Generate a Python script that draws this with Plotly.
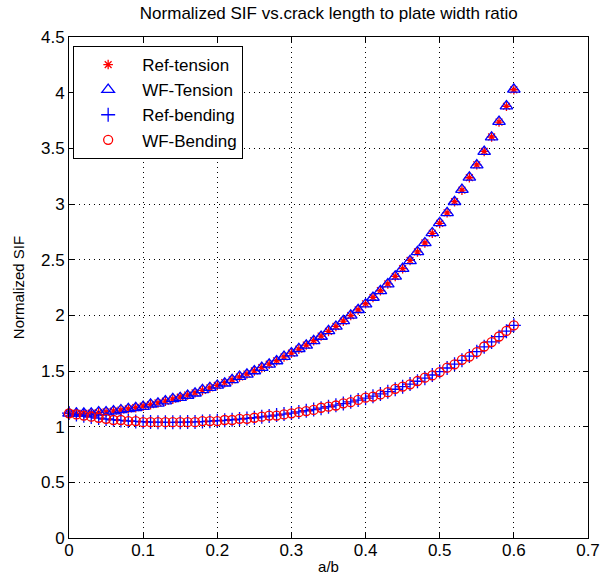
import plotly.graph_objects as go

# crack length to plate width ratio a/b
a_over_b = [round(0.01 * i, 2) for i in range(61)]

# normalized SIF, reference solution under tension
ref_tension = [
    1.120, 1.119, 1.119, 1.122, 1.126, 1.132, 1.140, 1.149, 1.159, 1.171,
    1.184, 1.198, 1.213, 1.229, 1.247, 1.265, 1.284, 1.304, 1.326, 1.348,
    1.371, 1.395, 1.420, 1.446, 1.473, 1.501, 1.530, 1.561, 1.592, 1.626,
    1.660, 1.696, 1.733, 1.773, 1.814, 1.856, 1.901, 1.948, 1.998, 2.049,
    2.104, 2.161, 2.221, 2.283, 2.350, 2.419, 2.493, 2.570, 2.651, 2.737,
    2.826, 2.921, 3.021, 3.125, 3.236, 3.352, 3.473, 3.602, 3.736, 3.878,
    4.026,
]

# normalized SIF, weight function result under tension
wf_tension = [
    1.12, 1.12, 1.12, 1.12, 1.13, 1.13, 1.14, 1.15, 1.16, 1.17,
    1.18, 1.20, 1.21, 1.23, 1.25, 1.26, 1.28, 1.30, 1.33, 1.35,
    1.37, 1.39, 1.42, 1.45, 1.47, 1.50, 1.53, 1.56, 1.59, 1.63,
    1.66, 1.70, 1.73, 1.77, 1.81, 1.86, 1.90, 1.95, 2.00, 2.05,
    2.10, 2.16, 2.22, 2.28, 2.35, 2.42, 2.49, 2.57, 2.65, 2.74,
    2.83, 2.92, 3.02, 3.13, 3.24, 3.35, 3.47, 3.60, 3.74, 3.88,
    4.03,
]

# normalized SIF, reference solution under bending
ref_bending = [
    1.122, 1.109, 1.097, 1.086, 1.077, 1.069, 1.062, 1.056, 1.051, 1.047,
    1.044, 1.041, 1.040, 1.039, 1.039, 1.040, 1.041, 1.043, 1.046, 1.049,
    1.053, 1.057, 1.062, 1.068, 1.074, 1.080, 1.088, 1.095, 1.104, 1.113,
    1.122, 1.132, 1.143, 1.154, 1.166, 1.179, 1.193, 1.207, 1.223, 1.239,
    1.256, 1.274, 1.294, 1.314, 1.336, 1.359, 1.383, 1.408, 1.436, 1.464,
    1.495, 1.527, 1.561, 1.596, 1.634, 1.674, 1.717, 1.761, 1.808, 1.858,
    1.910,
]

# normalized SIF, weight function result under bending
wf_bending = [
    1.12, 1.11, 1.10, 1.09, 1.08, 1.07, 1.06, 1.06, 1.05, 1.05,
    1.04, 1.04, 1.04, 1.04, 1.04, 1.04, 1.04, 1.04, 1.05, 1.05,
    1.05, 1.06, 1.06, 1.07, 1.07, 1.08, 1.09, 1.10, 1.10, 1.11,
    1.12, 1.13, 1.14, 1.15, 1.17, 1.18, 1.19, 1.21, 1.22, 1.24,
    1.26, 1.27, 1.29, 1.31, 1.34, 1.36, 1.38, 1.41, 1.44, 1.46,
    1.49, 1.53, 1.56, 1.60, 1.63, 1.67, 1.72, 1.76, 1.81, 1.86,
    1.91,
]

x_ticks = [0, 0.1, 0.2, 0.3, 0.4, 0.5, 0.6, 0.7]
x_tick_text = ["0", "0.1", "0.2", "0.3", "0.4", "0.5", "0.6", "0.7"]
y_ticks = [0, 0.5, 1, 1.5, 2, 2.5, 3, 3.5, 4, 4.5]
y_tick_text = ["0", "0.5", "1", "1.5", "2", "2.5", "3", "3.5", "4", "4.5"]

RED = "#ff0000"
BLUE = "#0000ff"
FONT = "Liberation Sans, Arial, sans-serif"

series = [
    ("Ref-tension", ref_tension, "asterisk-open", 8, RED),
    ("WF-Tension", wf_tension, "triangle-up-open", 11, BLUE),
    ("Ref-bending", ref_bending, "cross-thin-open", 10, BLUE),
    ("WF-Bending", wf_bending, "circle-open", 9, RED),
]

fig = go.Figure()
for i, (name, vals, sym, size, color) in enumerate(series):
    fig.add_trace(go.Scatter(
        x=a_over_b, y=vals, name=name, mode="markers",
        legendgroup=f"g{i}",
        cliponaxis=False,
        marker=dict(symbol=sym, size=size, color=color,
                    line=dict(color=color, width=1.3)),
    ))

axis_common = dict(
    showline=True, linecolor="black", linewidth=1, mirror="ticks",
    ticks="inside", ticklen=5, tickcolor="black",
    showgrid=True, gridcolor="black", gridwidth=1, griddash="1px,4px",
    zeroline=False, ticklabeloverflow="allow", automargin=False,
    tickfont=dict(family=FONT, size=17, color="black"),
)

fig.update_xaxes(
    range=[0, 0.70001], tickvals=x_ticks, ticktext=x_tick_text,
    ticklabelstandoff=-3,
    title=dict(text="a/b", font=dict(family=FONT, size=15, color="black"),
               standoff=2),
    **axis_common,
)
fig.update_yaxes(
    range=[0, 4.50001], tickvals=y_ticks, ticktext=y_tick_text,
    title=dict(text="Normalized SIF", font=dict(family=FONT, size=15, color="black"),
               standoff=12),
    **axis_common,
)

fig.update_layout(
    width=600, height=578,
    margin=dict(l=69, r=12, t=37, b=40, autoexpand=False),
    paper_bgcolor="white", plot_bgcolor="white",
    title=dict(
        text="Normalized SIF vs.crack length to plate width ratio",
        font=dict(family=FONT, size=17, color="black"),
        x=0.548, xanchor="center", y=1 - 13 / 578, yanchor="middle",
    ),
    legend=dict(
        x=0.008, y=0.982, xanchor="left", yanchor="top",
        bgcolor="white", bordercolor="black", borderwidth=1,
        font=dict(family=FONT, size=17, color="black"),
        itemwidth=58, tracegroupgap=0,
    ),
)

fig.write_html("out.html")
